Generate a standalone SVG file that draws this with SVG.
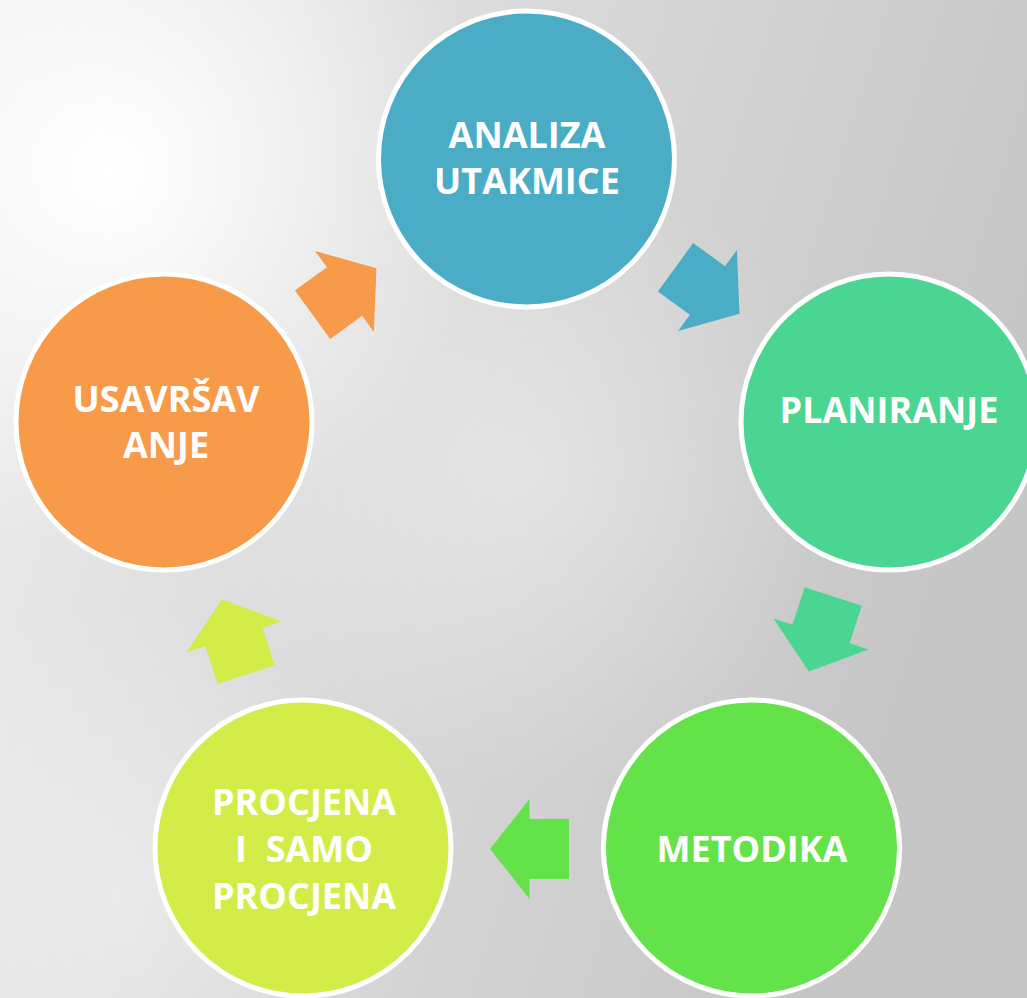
<svg xmlns="http://www.w3.org/2000/svg" width="1027" height="998" viewBox="0 0 1027 998">
  <defs>
    <linearGradient id="bg" x1="0" y1="0" x2="1" y2="0.3">
      <stop offset="0" stop-color="#eeeeee"/>
      <stop offset="0.5" stop-color="#d9d9d9"/>
      <stop offset="1" stop-color="#c6c6c6"/>
    </linearGradient>
    <radialGradient id="hl" cx="110" cy="170" r="380" gradientUnits="userSpaceOnUse">
      <stop offset="0" stop-color="#ffffff" stop-opacity="1"/>
      <stop offset="0.4" stop-color="#ffffff" stop-opacity="0.6"/>
      <stop offset="1" stop-color="#ffffff" stop-opacity="0"/>
    </radialGradient>
    <radialGradient id="hl2" cx="520" cy="470" r="320" gradientUnits="userSpaceOnUse">
      <stop offset="0" stop-color="#ffffff" stop-opacity="0.35"/>
      <stop offset="1" stop-color="#ffffff" stop-opacity="0"/>
    </radialGradient>
    <radialGradient id="hl3" cx="120" cy="900" r="300" gradientUnits="userSpaceOnUse">
      <stop offset="0" stop-color="#ffffff" stop-opacity="0.35"/>
      <stop offset="1" stop-color="#ffffff" stop-opacity="0"/>
    </radialGradient>
    <polygon id="arrow" points="-39.5,-30 0,-30 0,-50 39.5,0 0,50 0,30 -39.5,30"/>
  </defs>
  <style>
    .node circle { stroke: #ffffff; stroke-width: 5; }
    .node text { font-family: "Open Sans", "Liberation Sans", sans-serif; font-weight: bold; font-size: 36px; fill: #ffffff; text-anchor: middle; white-space: pre; }
  </style>
  <rect x="0" y="0" width="1027" height="998" fill="url(#bg)"/>
  <rect x="0" y="0" width="1027" height="998" fill="url(#hl)"/>
  <rect x="0" y="0" width="1027" height="998" fill="url(#hl2)"/>
  <rect x="0" y="0" width="1027" height="998" fill="url(#hl3)"/>

  <g id="connectors">
    <use href="#arrow" fill="#4BACC6" transform="translate(707.5,290.5) rotate(36)"/>
    <use href="#arrow" fill="#4BD592" transform="translate(821,634) rotate(108)"/>
    <use href="#arrow" fill="#63E349" transform="translate(529.5,849) rotate(180)"/>
    <use href="#arrow" fill="#D4EC48" transform="translate(234,637) rotate(-108)"/>
    <use href="#arrow" fill="#F79A4A" transform="translate(344.5,291.5) rotate(-36)"/>
  </g>

  <g id="node-analiza" class="node">
    <circle cx="526.5" cy="159" r="148" fill="#4BACC6"/>
    <text x="527" y="148">ANALIZA</text>
    <text x="527" y="194">UTAKMICE</text>
  </g>
  <g id="node-planiranje" class="node">
    <circle cx="889" cy="422" r="148" fill="#4BD592"/>
    <text x="889" y="423">PLANIRANJE</text>
  </g>
  <g id="node-metodika" class="node">
    <circle cx="751.5" cy="848" r="148" fill="#63E349"/>
    <text x="752" y="862">METODIKA</text>
  </g>
  <g id="node-procjena" class="node">
    <circle cx="303" cy="848" r="148" fill="#D4EC48"/>
    <text x="304" y="815">PROCJENA</text>
    <text x="304" y="862">I  SAMO</text>
    <text x="304" y="909">PROCJENA</text>
  </g>
  <g id="node-usavrsavanje" class="node">
    <circle cx="164" cy="422" r="148" fill="#F79A4A"/>
    <text x="166" y="412">USAVRŠAV</text>
    <text x="166" y="458">ANJE</text>
  </g>
</svg>
